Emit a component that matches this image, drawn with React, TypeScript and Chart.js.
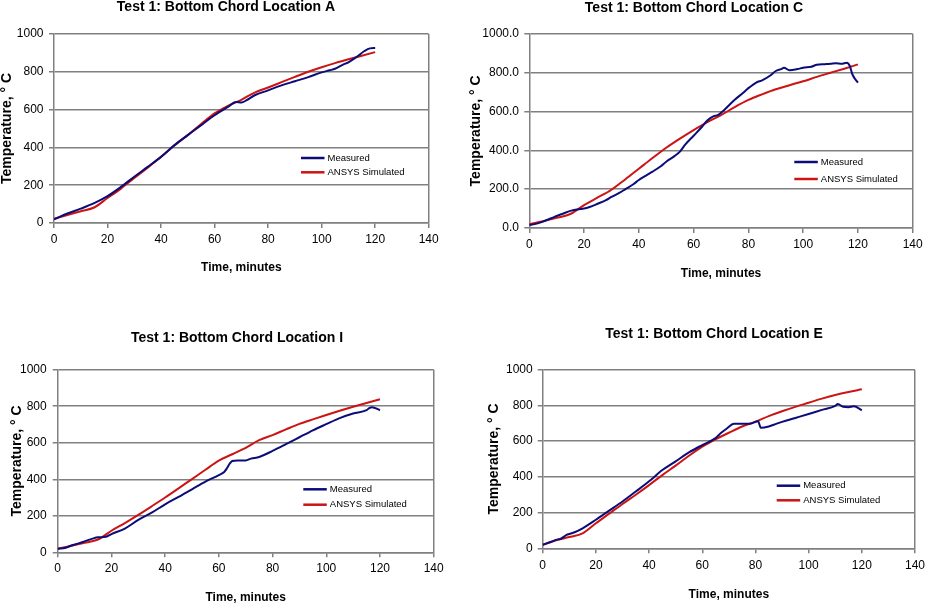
import { useEffect, useRef } from "react";
import { Chart, registerables } from "chart.js";

Chart.register(...registerables);

const FONT = '"Liberation Sans", Arial, Helvetica, sans-serif';
const MEASURED_COLOR = "#0c0c78";
const SIMULATED_COLOR = "#cc1414";
const GRID_COLOR = "#808080";

const seriesLabels = ["Measured", "ANSYS Simulated"];
const xTicks = [0, 20, 40, 60, 80, 100, 120, 140];
const yTicks = [0, 200, 400, 600, 800, 1000];
const xAxisTitle = "Time, minutes";
const yAxisTitle = "Temperature, ° C";

const titleA = "Test 1: Bottom Chord Location A";
const titleC = "Test 1: Bottom Chord Location C";
const titleI = "Test 1: Bottom Chord Location I";
const titleE = "Test 1: Bottom Chord Location E";

// ---- Location A ----
const measuredATime = [0, 5, 10, 15, 20, 25, 30, 35, 40, 45, 50, 55, 60, 65, 68, 70, 72, 75, 80, 85, 90, 95, 100, 103, 105, 108, 110, 113, 116, 118, 120];
const measuredATemp = [20, 50, 76, 105, 142, 191, 245, 297, 350, 412, 465, 518, 570, 614, 640, 637, 650, 676, 702, 728, 750, 772, 797, 808, 816, 838, 850, 878, 910, 924, 926];
const simulatedATime = [0, 5, 10, 15, 20, 25, 30, 35, 40, 45, 50, 55, 60, 65, 70, 75, 80, 85, 90, 95, 100, 105, 110, 115, 120];
const simulatedATemp = [22, 42, 62, 82, 132, 182, 238, 293, 350, 410, 466, 524, 580, 620, 652, 690, 717, 745, 773, 800, 824, 846, 866, 885, 904];

// ---- Location C ----
const measuredCTime = [0, 2, 5, 8, 10, 12, 15, 18, 20, 22, 25, 28, 30, 33, 35, 38, 40, 43, 45, 48, 50, 53, 55, 57, 60, 63, 65, 67, 69, 71, 75, 78, 80, 83, 85, 88, 90, 92, 93, 95, 98, 100, 103, 105, 108, 110, 112, 114, 116, 117, 118, 120];
const measuredCTemp = [15, 20, 33, 50, 62, 72, 88, 97, 100, 108, 125, 143, 160, 182, 199, 225, 247, 273, 290, 318, 341, 370, 393, 430, 475, 520, 553, 573, 582, 605, 660, 695, 720, 750, 760, 785, 808, 818, 825, 812, 818, 825, 830, 840, 843, 845, 848, 845, 851, 835, 790, 748];
const simulatedCTime = [0, 5, 10, 15, 20, 25, 30, 35, 40, 45, 50, 55, 60, 65, 70, 75, 80, 85, 90, 95, 100, 105, 110, 115, 120];
const simulatedCTemp = [20, 35, 52, 72, 118, 157, 197, 250, 305, 360, 413, 460, 504, 545, 581, 622, 659, 688, 714, 735, 755, 778, 799, 820, 842];

// ---- Location I ----
const measuredITime = [0, 3, 5, 8, 10, 13, 15, 18, 20, 25, 30, 35, 40, 45, 50, 55, 60, 62, 63, 64, 65, 67, 70, 72, 75, 80, 85, 90, 95, 100, 105, 110, 115, 116, 117, 120];
const measuredITemp = [20, 25, 37, 50, 60, 75, 82, 85, 100, 130, 177, 217, 263, 303, 345, 387, 423, 440, 460, 485, 500, 503, 503, 513, 522, 555, 592, 630, 668, 702, 735, 760, 778, 790, 795, 778];
const simulatedITime = [0, 5, 10, 15, 20, 25, 30, 35, 40, 45, 50, 55, 60, 65, 70, 75, 80, 85, 90, 95, 100, 105, 110, 115, 120];
const simulatedITemp = [20, 35, 52, 70, 118, 160, 205, 252, 300, 350, 401, 452, 502, 537, 572, 614, 642, 673, 703, 728, 752, 775, 797, 818, 838];

// ---- Location E ----
const measuredETime = [0, 3, 5, 7, 9, 10, 12, 15, 20, 25, 30, 35, 40, 45, 50, 55, 60, 65, 67, 69, 72, 75, 78, 81, 82, 85, 88, 90, 95, 100, 105, 110, 111, 113, 115, 117, 120];
const measuredETemp = [20, 35, 47, 55, 75, 80, 90, 112, 160, 211, 262, 318, 375, 438, 487, 537, 578, 617, 645, 668, 697, 697, 697, 712, 675, 682, 698, 708, 730, 752, 775, 797, 808, 792, 790, 795, 773];
const simulatedETime = [0, 5, 10, 15, 20, 25, 30, 35, 40, 45, 50, 55, 60, 65, 70, 75, 80, 85, 90, 95, 100, 105, 110, 115, 120];
const simulatedETemp = [20, 45, 63, 84, 140, 194, 248, 300, 354, 410, 463, 518, 569, 610, 647, 682, 709, 740, 767, 792, 815, 838, 858, 875, 890];

type Layout = {
  left: number; top: number; width: number; height: number;
  padTop: number; padRight: number;
  yAxisWidth: number; xAxisHeight: number;
  yTitlePad: number; yTickPad: number; xTickPad: number;
  titleX: number; titleY: number;
  legendX: number; legendY: number; legendGap: number;
  decimals: number;
};

const toPoints = (t: number[], v: number[]) => t.map((x, i) => ({ x, y: v[i] }));

const decorPlugin = {
  id: "decor",
  afterDraw(chart: any, _args: any, opts: any) {
    const ctx = chart.ctx;
    ctx.save();
    // title
    ctx.fillStyle = "#000";
    ctx.font = `bold 14px ${FONT}`;
    ctx.textAlign = "center";
    ctx.textBaseline = "middle";
    ctx.fillText(opts.title, opts.titleX, opts.titleY);
    // legend
    ctx.font = `9.5px ${FONT}`;
    ctx.textAlign = "left";
    chart.data.datasets.forEach((ds: any, i: number) => {
      const y = opts.legendY + i * opts.legendGap;
      ctx.strokeStyle = ds.borderColor;
      ctx.lineWidth = 2.5;
      ctx.beginPath();
      ctx.moveTo(opts.legendX, y);
      ctx.lineTo(opts.legendX + 23.5, y);
      ctx.stroke();
      ctx.fillStyle = "#000";
      ctx.fillText(ds.label, opts.legendX + 26.5, y);
    });
    ctx.restore();
  },
};

function Panel(props: {
  title: string;
  mt: number[]; mv: number[]; st: number[]; sv: number[];
  lay: Layout;
}) {
  const ref = useRef<HTMLCanvasElement | null>(null);
  const { title, mt, mv, st, sv, lay } = props;
  useEffect(() => {
    if (!ref.current) return;
    const chart = new Chart(ref.current, {
      type: "line",
      data: {
        datasets: [
          {
            label: seriesLabels[0],
            data: toPoints(mt, mv),
            borderColor: MEASURED_COLOR,
            backgroundColor: MEASURED_COLOR,
            borderWidth: 2,
            pointRadius: 0,
            cubicInterpolationMode: "monotone",
          },
          {
            label: seriesLabels[1],
            data: toPoints(st, sv),
            borderColor: SIMULATED_COLOR,
            backgroundColor: SIMULATED_COLOR,
            borderWidth: 2,
            pointRadius: 0,
            cubicInterpolationMode: "monotone",
          },
        ],
      },
      options: {
        responsive: false,
        maintainAspectRatio: false,
        animation: false,
        layout: { padding: { left: 0, top: lay.padTop, right: lay.padRight, bottom: 0 } },
        plugins: {
          legend: { display: false },
          title: { display: false },
          tooltip: { enabled: false },
          decor: {
            title,
            titleX: lay.titleX,
            titleY: lay.titleY,
            legendX: lay.legendX,
            legendY: lay.legendY,
            legendGap: lay.legendGap,
          },
        } as any,
        scales: {
          x: {
            type: "linear",
            min: xTicks[0],
            max: xTicks[xTicks.length - 1],
            afterBuildTicks: (s: any) => {
              s.ticks = xTicks.map((v) => ({ value: v }));
            },
            afterFit: (s: any) => {
              s.height = lay.xAxisHeight;
              s.paddingLeft = 0;
              s.paddingRight = 0;
            },
            grid: {
              display: true,
              drawOnChartArea: true,
              drawTicks: true,
              tickLength: 5,
              lineWidth: 1.5,
              color: (c: any) => (c.tick && c.tick.value === xTicks[xTicks.length - 1] ? GRID_COLOR : "rgba(0,0,0,0)"),
              tickColor: GRID_COLOR,
            },
            border: { display: true, color: GRID_COLOR, width: 1.5 },
            ticks: {
              color: "#000",
              padding: lay.xTickPad,
              maxRotation: 0,
              font: { family: FONT, size: 12, lineHeight: 1 },
            },
            title: {
              display: true,
              text: xAxisTitle,
              color: "#000",
              padding: { top: 0, bottom: 0 },
              font: { family: FONT, size: 12, weight: "bold", lineHeight: 1 },
            },
          },
          y: {
            type: "linear",
            min: yTicks[0],
            max: yTicks[yTicks.length - 1],
            afterBuildTicks: (s: any) => {
              s.ticks = yTicks.map((v) => ({ value: v }));
            },
            afterFit: (s: any) => {
              s.width = lay.yAxisWidth;
            },
            grid: {
              display: true,
              drawOnChartArea: true,
              drawTicks: true,
              tickLength: 5,
              lineWidth: 1.5,
              color: GRID_COLOR,
              tickColor: GRID_COLOR,
            },
            border: { display: true, color: GRID_COLOR, width: 1.5 },
            ticks: {
              color: "#000",
              padding: lay.yTickPad,
              font: { family: FONT, size: 12, lineHeight: 1 },
              callback: (v: any) => Number(v).toFixed(lay.decimals),
            },
            title: {
              display: true,
              text: yAxisTitle,
              color: "#000",
              padding: { top: lay.yTitlePad, bottom: 0 },
              font: { family: FONT, size: 14, weight: "bold", lineHeight: 1 },
            },
          },
        },
      },
      plugins: [decorPlugin as any],
    });
    return () => chart.destroy();
  }, []);
  return (
    <canvas
      ref={ref}
      width={lay.width}
      height={lay.height}
      style={{ position: "absolute", left: lay.left, top: lay.top, width: lay.width, height: lay.height }}
    />
  );
}

const layoutA: Layout = {
  left: 0, top: 0, width: 445, height: 274,
  padTop: 34, padRight: 16.3, yAxisWidth: 54, xAxisHeight: 51,
  yTitlePad: 0, yTickPad: 5.5, xTickPad: 6,
  titleX: 226, titleY: 6.7,
  legendX: 301, legendY: 158, legendGap: 14.3, decimals: 0,
};
const layoutC: Layout = {
  left: 465, top: 0, width: 460, height: 280,
  padTop: 33.7, padRight: 12.3, yAxisWidth: 64.3, xAxisHeight: 52,
  yTitlePad: 4, yTickPad: 5.3, xTickPad: 6,
  titleX: 229, titleY: 7.8,
  legendX: 329.3, legendY: 162, legendGap: 17, decimals: 1,
};
const layoutI: Layout = {
  left: 0, top: 320, width: 450, height: 284,
  padTop: 49.7, padRight: 16.3, yAxisWidth: 57.7, xAxisHeight: 51.7,
  yTitlePad: 9.7, yTickPad: 6, xTickPad: 5.7,
  titleX: 237, titleY: 18.3,
  legendX: 303.3, legendY: 169.3, legendGap: 15.4, decimals: 0,
};
const layoutE: Layout = {
  left: 487, top: 320, width: 450, height: 281,
  padTop: 49.7, padRight: 22, yAxisWidth: 55.7, xAxisHeight: 52.7,
  yTitlePad: 0.5, yTickPad: 5, xTickPad: 6.7,
  titleX: 227, titleY: 14.5,
  legendX: 289.7, legendY: 165.7, legendGap: 14.6, decimals: 0,
};

export default function App() {
  return (
    <div style={{ position: "absolute", left: 0, top: 0, width: 925, height: 606, overflow: "hidden", background: "#fff" }}>
      <Panel title={titleA} mt={measuredATime} mv={measuredATemp} st={simulatedATime} sv={simulatedATemp} lay={layoutA} />
      <Panel title={titleC} mt={measuredCTime} mv={measuredCTemp} st={simulatedCTime} sv={simulatedCTemp} lay={layoutC} />
      <Panel title={titleI} mt={measuredITime} mv={measuredITemp} st={simulatedITime} sv={simulatedITemp} lay={layoutI} />
      <Panel title={titleE} mt={measuredETime} mv={measuredETemp} st={simulatedETime} sv={simulatedETemp} lay={layoutE} />
    </div>
  );
}
